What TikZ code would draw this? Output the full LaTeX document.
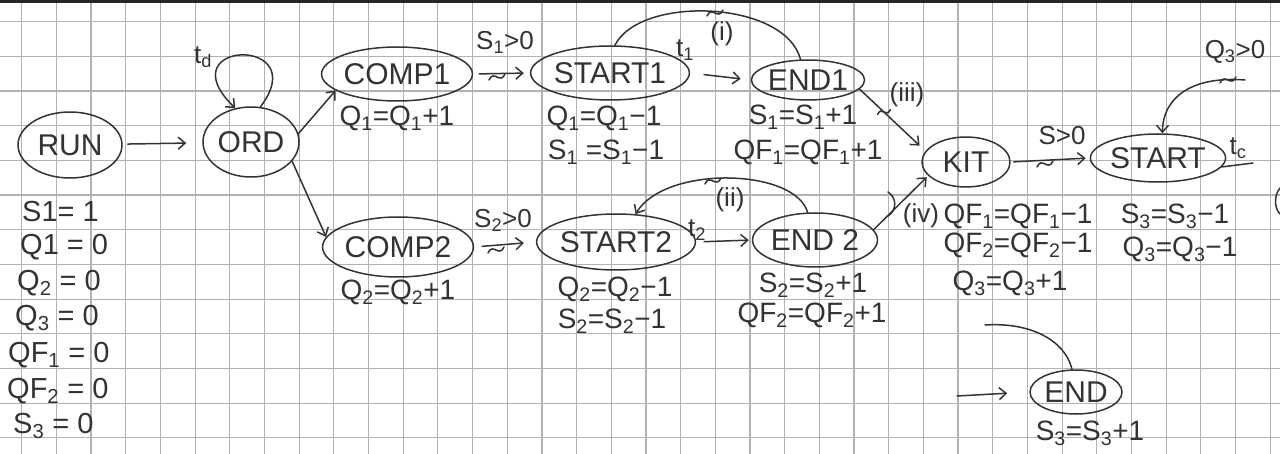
\documentclass[tikz,border=0pt]{standalone}
\usepackage{fontspec}
\setmainfont{Liberation Sans}
\usetikzlibrary{shapes.geometric,arrows.meta,calc}
\newcommand\sbs[1]{\textsubscript{#1}}
\begin{document}
\begin{tikzpicture}[x=1pt,y=-1pt,
  ink/.style={draw=black!80, line width=1.5pt, line cap=round, line join=round},
  st/.style={ellipse, ink, inner sep=0pt, font=\fontsize{30}{32}\selectfont, text=black!80},
  eq/.style={inner sep=0pt, font=\fontsize{28}{30}\selectfont, text=black!80},
  ini/.style={inner sep=0pt, font=\fontsize{29}{31}\selectfont, text=black!80},
  lbl/.style={inner sep=0pt, font=\fontsize{26}{28}\selectfont, text=black!80},
  arr/.style={ink, -{Straight Barb[length=7pt,width=12pt,line width=1.5pt]}},
  gridc/.style={draw=black!30, line width=1.2pt},
  tilde/.pic={\draw[ink] (-8,3) .. controls (-3,-8) and (3,8) .. (8,-3);},
  paren/.pic={\draw[ink] (-4,-12) .. controls (5,-6) and (5,6) .. (-4,12);}
]
\useasboundingbox (0,0) rectangle (1280,454);
\fill[white] (0,0) rectangle (1280,454);
% grid paper
\foreach \k in {0,...,36} \draw[gridc] ({21.7+34.68*\k},0) -- ({21.7+34.68*\k},454);
\foreach \k in {0,...,12} \draw[gridc] (0,{21.7+34.68*\k}) -- (1280,{21.7+34.68*\k});
\fill[black!85] (0,0) rectangle (1280,3);

% states
\node[st, minimum width=104pt, minimum height=66pt] (run) at (70,145) {RUN};
\node[st, minimum width=96pt, minimum height=70pt] (ord) at (251,142) {ORD};
\node[st, minimum width=132pt, minimum height=54pt] (comp1) at (397,74) {COMP1};
\node[st, minimum width=124pt, minimum height=54pt] (start1) at (610,73) {START1};
\node[st, minimum width=100pt, minimum height=40pt] (end1) at (808,80) {END1};
\node[st, minimum width=130pt, minimum height=60pt] (comp2) at (398,247) {COMP2};
\node[st, minimum width=126pt, minimum height=56pt] (start2) at (616,242) {START2};
\node[st, minimum width=110pt, minimum height=54pt] (end2) at (815,240) {END 2};
\node[st, minimum width=88pt, minimum height=50pt] (kit) at (966,162) {KIT};
\node[st, minimum width=110pt, minimum height=48pt] (start3) at (1158,158) {START};
\node[st, minimum width=92pt, minimum height=44pt] (endf) at (1076,392) {END};

% initial values
\node[ini, anchor=west] (i1) at (22,212) {S1= 1};
\node[ini, anchor=west] (i2) at (20,247) {Q1 = 0};
\node[ini, anchor=west] (i3) at (17,283) {Q\sbs{2} = 0};
\node[ini, anchor=west] (i4) at (15,318) {Q\sbs{3} = 0};
\node[ini, anchor=west] (i5) at (8,355) {QF\sbs{1} = 0};
\node[ini, anchor=west] (i6) at (7,391) {QF\sbs{2} = 0};
\node[ini, anchor=west] (i7) at (13,426) {S\sbs{3} = 0};

% actions
\node[eq] (a1) at (397,118) {Q\sbs{1}=Q\sbs{1}+1};
\node[eq] (a2) at (604,118) {Q\sbs{1}=Q\sbs{1}−1};
\node[eq] (a3) at (606,152) {S\sbs{1} =S\sbs{1}−1};
\node[eq] (a4) at (803,117) {S\sbs{1}=S\sbs{1}+1};
\node[eq] (a5) at (808,152) {QF\sbs{1}=QF\sbs{1}+1};
\node[eq] (a6) at (398,292) {Q\sbs{2}=Q\sbs{2}+1};
\node[eq] (a7) at (615,289) {Q\sbs{2}=Q\sbs{2}−1};
\node[eq] (a8) at (612,321) {S\sbs{2}=S\sbs{2}−1};
\node[eq] (a9) at (813,285) {S\sbs{2}=S\sbs{2}+1};
\node[eq] (a10) at (812,315) {QF\sbs{2}=QF\sbs{2}+1};
\node[eq] (a11) at (1018,216) {QF\sbs{1}=QF\sbs{1}−1};
\node[eq] (a12) at (1018,245) {QF\sbs{2}=QF\sbs{2}−1};
\node[eq] (a13) at (1010,283) {Q\sbs{3}=Q\sbs{3}+1};
\node[eq] (a14) at (1175,216) {S\sbs{3}=S\sbs{3}−1};
\node[eq] (a15) at (1180,249) {Q\sbs{3}=Q\sbs{3}−1};
\node[eq] (a16) at (1090,433) {S\sbs{3}=S\sbs{3}+1};

% labels
\node[lbl] (ltd) at (203,57) {t\sbs{d}};
\node[lbl] (ls1) at (505,42) {S\sbs{1}>0};
\node[lbl] (lt1) at (685,50) {t\sbs{1}};
\node[lbl] (li) at (722,34) {(i)};
\node[lbl] (liii) at (907,95) {(iii)};
\node[lbl] (lsg) at (1062,136) {S>0};
\node[lbl] (lq3) at (1235,52) {Q\sbs{3}>0};
\node[lbl] (ltc) at (1238,148) {t\sbs{c}};
\node[lbl] (ls2) at (503,220) {S\sbs{2}>0};
\node[lbl] (lii) at (730,200) {(ii)};
\node[lbl] (lt2) at (697,230) {t\sbs{2}};
\node[lbl] (liv) at (921,216) {(iv)};

% connectors
\draw[arr, shorten <=5pt, shorten >=16pt] (run) -- (ord);
\draw[arr] (ord.75) .. controls (315,35) and (165,40) .. (ord.115);
\draw[arr] (ord.10) -- (comp1.195);
\draw[arr] (ord.-25) -- (comp2.172);
\draw[arr, shorten <=6pt, shorten >=6pt] (comp1.east) -- (start1.west);
\pic at (497,77) {tilde};
\draw[arr, shorten <=14pt, shorten >=10pt] (start1.east) -- (end1.west);
\draw[ink] (end1.110) .. controls (785,0) and (640,-5) .. (start1.80);
\pic at (715,13) {tilde};
\draw[arr, shorten >=8pt] (end1.-10) -- (kit.165);
\pic[scale=0.8] at (884,112) {tilde};
\draw[arr, shorten >=2pt] (end2.10) -- (kit.200);
\pic at (892,204) {paren};
\draw[arr, shorten <=8pt, shorten >=12pt] (comp2.east) -- (start2.west);
\pic at (496,250) {tilde};
\draw[arr, shorten <=8pt, shorten >=3pt] (start2.east) -- (end2.west);
\draw[arr] (end2.105) .. controls (795,168) and (665,165) .. (start2.55);
\pic at (713,181) {tilde};
\draw[arr, shorten <=3pt, shorten >=4pt] (kit.east) -- (start3.west);
\pic at (1045,164) {tilde};
\coordinate (tcend) at (1253,163);
\draw[ink] (start3.-8) -- (tcend);
\coordinate (q3src) at (1245,80);
\draw[arr] (q3src) .. controls (1195,76) and (1163,95) .. (start3.80);
\pic at (1228,80) {tilde};
\coordinate (endsrc) at (957,396);
\draw[arr, shorten >=22pt] (endsrc) -- (endf.west);
\coordinate (arcsrc) at (985,325);
\draw[ink] (arcsrc) .. controls (1030,322) and (1065,340) .. (endf.100);
% cut-off stroke at the right edge
\draw[ink] (1280,188) .. controls (1274,195) and (1274,208) .. (1280,214);
\end{tikzpicture}
\end{document}
